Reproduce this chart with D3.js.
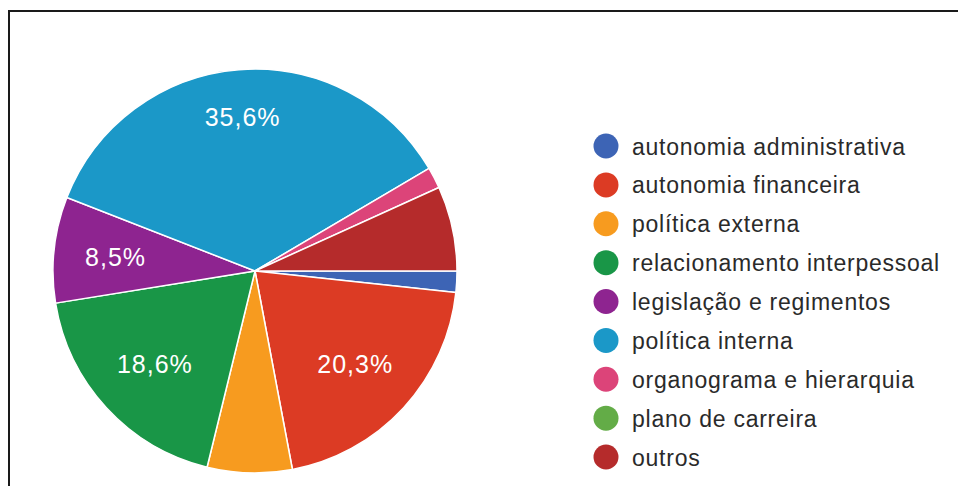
<!DOCTYPE html>
<html>
<head>
<meta charset="utf-8">
<script src="https://cdn.jsdelivr.net/npm/d3@7"></script>
<style>
  html, body { margin: 0; padding: 0; background: #fff; }
  svg { display: block; }
  text { font-family: "Liberation Sans", Arial, sans-serif; }
</style>
</head>
<body>
<svg id="chart" width="958" height="486"></svg>
<script>
// Categories of the survey answers
const categories = [
  "autonomia administrativa",
  "autonomia financeira",
  "política externa",
  "relacionamento interpessoal",
  "legislação e regimentos",
  "política interna",
  "organograma e hierarquia",
  "plano de carreira",
  "outros"
];
// Number of answers per category
const counts = [1, 12, 4, 11, 5, 21, 1, 0, 4];
const colors = [
  "#3d64b5", "#dc3b24", "#f79b1f", "#199647", "#8e2490",
  "#1b98c8", "#dc4479", "#63ac47", "#b52b2b"
];

const svg = d3.select("#chart");
const W = 958, H = 486;

// frame (top and left edges)
svg.append("path")
  .attr("d", `M9,${H} V11 H${W}`)
  .attr("fill", "none")
  .attr("stroke", "#1a1a1a")
  .attr("stroke-width", 2);

const cx = 255, cy = 271, R = 202;
const total = d3.sum(counts);
const fmt = v => (v * 100).toFixed(1).replace(".", ",") + "%";

const pie = d3.pie()
  .sort(null)
  .value(d => d)
  .startAngle(Math.PI / 2)
  .endAngle(Math.PI / 2 + 2 * Math.PI);
const arcs = pie(counts);
const arc = d3.arc().innerRadius(0).outerRadius(R);

const g = svg.append("g").attr("transform", `translate(${cx},${cy})`);

g.selectAll("path.slice")
  .data(arcs.filter(a => a.value > 0))
  .join("path")
  .attr("class", "slice")
  .attr("d", arc)
  .attr("fill", a => colors[a.index])
  .attr("stroke", "#fff")
  .attr("stroke-width", 1.5)
  .attr("stroke-linejoin", "round");

// slice labels: the outer corner of the text box sits on a fixed radius along the bisector
const labelR = R * 0.85;
const labels = g.selectAll("text.lbl")
  .data(arcs.filter(a => a.value / total >= 0.08))
  .join("text")
  .attr("class", "lbl")
  .attr("fill", "#fff")
  .attr("font-size", 25)
  .attr("letter-spacing", 1)
  .attr("text-anchor", "middle")
  .text(a => fmt(a.value / total));

labels.each(function (a) {
  const el = d3.select(this);
  const w = this.getComputedTextLength();
  const h = 19;
  const mid = (a.startAngle + a.endAngle) / 2;
  const ux = Math.sin(mid), uy = -Math.cos(mid);
  const dx = Math.sign(ux) * w / 2, dy = Math.sign(uy) * h / 2;
  const ud = ux * dx + uy * dy;
  const t = -ud + Math.sqrt(ud * ud - (dx * dx + dy * dy) + labelR * labelR);
  const px = t * ux, py = t * uy;
  el.attr("x", px).attr("y", py + h / 2);
});

// legend
const legendY = d3.scalePoint().domain(categories).range([146, 457]);
const lg = svg.append("g");
const rows = lg.selectAll("g.row")
  .data(categories)
  .join("g")
  .attr("class", "row")
  .attr("transform", d => `translate(0,${legendY(d)})`);
rows.append("circle")
  .attr("cx", 606)
  .attr("cy", 0)
  .attr("r", 12.5)
  .attr("fill", (d, i) => colors[i]);
rows.append("text")
  .attr("x", 632)
  .attr("y", 8.5)
  .attr("font-size", 23)
  .attr("letter-spacing", 0.75)
  .attr("fill", "#2a2a2a")
  .text(d => d);
</script>
</body>
</html>
